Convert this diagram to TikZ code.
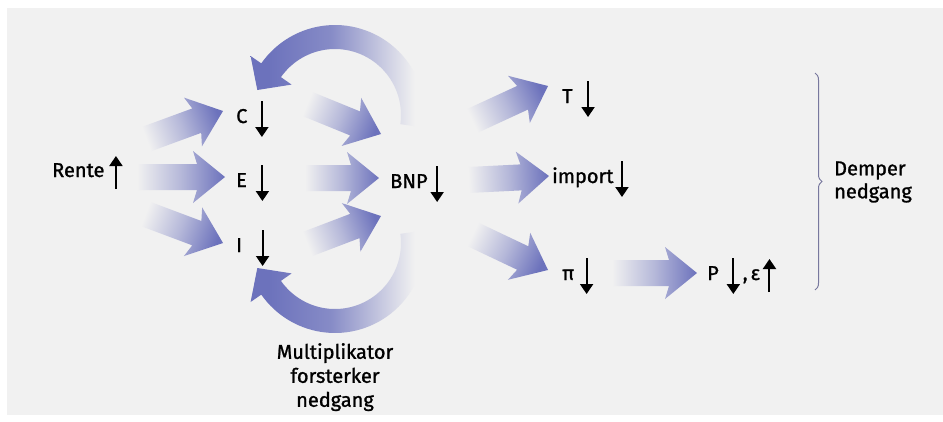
\documentclass[tikz,border=0pt]{standalone}
\usepackage{fontspec}
\setmainfont{Fira Sans}[FakeBold=1.2]
\usetikzlibrary{calc,arrows.meta,decorations.pathreplacing}
\definecolor{bgc}{RGB}{241,241,241}
\definecolor{ablue}{RGB}{108,114,188}
\definecolor{bracec}{RGB}{120,120,158}
\pgfdeclarehorizontalshading{fatfade}{100bp}{color(0bp)=(bgc); color(25bp)=(bgc); color(50bp)=(ablue!45!bgc); color(75bp)=(ablue); color(100bp)=(ablue)}
\pgfdeclarehorizontalshading{arcfade}{100bp}{color(0bp)=(ablue); color(30bp)=(ablue); color(48bp)=(ablue!80!bgc); color(60bp)=(ablue!40!bgc); color(72bp)=(bgc); color(100bp)=(bgc)}
\newcommand\dnarr[1][6pt]{\hspace{#1}\tikz[baseline=0pt]{\path (-6.5pt,0pt) (6.5pt,0pt);\draw[black,line width=2pt,-{Triangle[length=10pt,width=13pt]}] (0pt,22pt) -- (0pt,-14pt);}}
\newcommand\uparr[1][6pt]{\hspace{#1}\tikz[baseline=0pt]{\path (-6.5pt,0pt) (6.5pt,0pt);\draw[black,line width=2pt,-{Triangle[length=10pt,width=13pt]}] (0pt,-12pt) -- (0pt,21pt);}}
\newcommand\fatarrow[2]{%
  \path (#1) coordinate (fa-s) (#2) coordinate (fa-e);
  \pgfmathanglebetweenpoints{\pgfpointanchor{fa-s}{center}}{\pgfpointanchor{fa-e}{center}}%
  \pgfmathsetmacro\faang{\pgfmathresult}%
  \path ($(fa-e)!28pt!(fa-s)$) coordinate (fa-h) ($(fa-e)!32pt!(fa-s)$) coordinate (fa-b);
  \shade[fatshade, shading angle=\faang]
    ($(fa-s)!13pt!90:(fa-e)$) -- ($(fa-h)!13pt!90:(fa-e)$) -- ($(fa-b)!26pt!90:(fa-e)$) -- (fa-e)
    -- ($(fa-b)!26pt!-90:(fa-e)$) -- ($(fa-h)!13pt!-90:(fa-e)$) -- ($(fa-s)!13pt!-90:(fa-e)$) -- cycle;
}
\tikzset{
  lbl/.style={anchor=base west, inner sep=0pt, font=\fontsize{20}{24}\selectfont},
  fatshade/.style={shading=fatfade},
  arcshade/.style={shading=arcfade},
  bracestyle/.style={draw=bracec, line width=1pt, decorate, decoration={brace, amplitude=7pt}}
}
\begin{document}
\begin{tikzpicture}[x=1pt,y=-1pt]
\useasboundingbox (0,0) rectangle (943,421);
\fill[bgc] (7,8) rectangle (943,415);

% labels
\node[lbl] (rente) at (52,177) {Rente\uparr[5pt]};
\node[lbl] (c) at (236,123) {C\dnarr[8pt]};
\node[lbl] (e) at (236,187) {E\dnarr[9pt]};
\node[lbl] (i) at (236,252) {I\dnarr[14pt]};
\node[lbl] (bnp) at (390,188) {BNP\dnarr[3pt]};
\node[lbl] (t) at (562,103) {T\dnarr[9pt]};
\node[lbl] (imp) at (552,183) {import\dnarr[2pt]};
\node[lbl] (pi) at (562,280) {π\dnarr[6pt]};
\node[lbl] (p) at (707,280) {P\dnarr[8pt]\hspace{3pt},\hspace{3pt}ε\uparr[3pt]};
\node[anchor=west, inner sep=0pt, align=left, font=\fontsize{20}{23}\selectfont] (demper) at (834,182) {Demper\\nedgang};
\node[anchor=north, inner sep=0pt, align=center, font=\fontsize{20}{24}\selectfont] (mult) at (335,343) {Multiplikator\\forsterker\\nedgang};

% curved feedback arrows (BNP back to C and to I)
\coordinate (toptip) at (257.3,90.0);
\shade[arcshade] plot[domain=8:-145,samples=50] ({335+90*cos(\x)},{115+90*sin(\x)})
  -- (250.6,56.0) -- (toptip) -- (291.6,84.6)
  -- plot[domain=-145:8,samples=50] ({335+66*cos(\x)},{115+66*sin(\x)}) -- cycle;
\coordinate (bottip) at (257.3,268.0);
\shade[arcshade] plot[domain=-8:145,samples=50] ({335+90*cos(\x)},{243+90*sin(\x)})
  -- (250.6,302.0) -- (bottip) -- (291.6,273.4)
  -- plot[domain=145:-8,samples=50] ({335+66*cos(\x)},{243+66*sin(\x)}) -- cycle;

% straight fat arrows
\coordinate (r1) at (144,140);
\coordinate (r2) at (137,177);
\coordinate (r3) at (143,213);
\fatarrow{r1}{$(c.base west)+(-13,-12)$}
\fatarrow{r2}{$(e.base west)+(-11,-10)$}
\fatarrow{r3}{$(i.base west)+(-13,-9)$}
\coordinate (c1) at (305,103);
\coordinate (e1) at (305,178);
\coordinate (i1) at (305,245);
\fatarrow{c1}{$(bnp.base west)+(-9,-54)$}
\fatarrow{e1}{$(bnp.base west)+(-11,-10)$}
\fatarrow{i1}{$(bnp.base west)+(-9,28)$}
\coordinate (b1) at (470,122);
\coordinate (b2) at (468,180);
\coordinate (b3) at (470,233);
\fatarrow{b1}{$(t.base west)+(-14,-17)$}
\fatarrow{b2}{$(imp.base west)+(-3,-7)$}
\fatarrow{b3}{$(pi.base west)+(-14,-10)$}
\coordinate (pp1) at (612,273);
\fatarrow{pp1}{$(p.base west)+(-10,-7)$}

% brace
\coordinate (bt) at (815,73);
\coordinate (bb) at (815,290);
\draw[bracestyle] (bt) -- (bb);
\end{tikzpicture}
\end{document}
